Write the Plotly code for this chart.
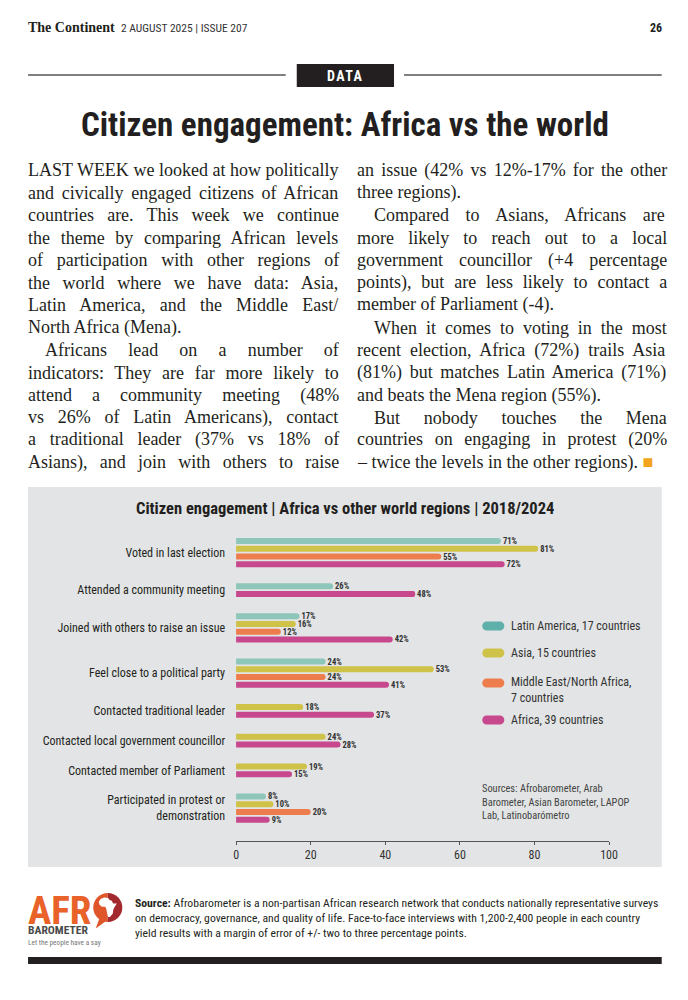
import plotly.graph_objects as go

W, H = 688, 1000

# ---------------- data ----------------
categories = [
    "Voted in last election",
    "Attended a community meeting",
    "Joined with others to raise an issue",
    "Feel close to a political party",
    "Contacted traditional leader",
    "Contacted local government councillor",
    "Contacted member of Parliament",
    "Participated in protest or<br>demonstration",
]
series_names = [
    "Latin America, 17 countries",
    "Asia, 15 countries",
    "Middle East/North Africa,<br>7 countries",
    "Africa, 39 countries",
]
latin_america = [71, 26, 17, 24, None, None, None, 8]
asia = [81, None, 16, 53, 18, 24, 19, 10]
mena = [55, None, 12, 24, None, None, None, 20]
africa = [72, 48, 42, 41, 37, 28, 15, 9]
x_ticks = [0, 20, 40, 60, 80, 100]

# (text, indent, justified)
left_lines = [
    ("LAST WEEK we looked at how politically", False, True),
    ("and civically engaged citizens of African", False, True),
    ("countries are. This week we continue", False, True),
    ("the theme by comparing African levels", False, True),
    ("of participation with other regions of", False, True),
    ("the world where we have data: Asia,", False, True),
    ("Latin America, and the Middle East/", False, True),
    ("North Africa (Mena).", False, False),
    ("Africans lead on a number of", True, True),
    ("indicators: They are far more likely to", False, True),
    ("attend a community meeting (48%", False, True),
    ("vs 26% of Latin Americans), contact", False, True),
    ("a traditional leader (37% vs 18% of", False, True),
    ("Asians), and join with others to raise", False, True),
]
right_lines = [
    ("an issue (42% vs 12%-17% for the other", False, True),
    ("three regions).", False, False),
    ("Compared to Asians, Africans are", True, True),
    ("more likely to reach out to a local", False, True),
    ("government councillor (+4 percentage", False, True),
    ("points), but are less likely to contact a", False, True),
    ("member of Parliament (-4).", False, False),
    ("When it comes to voting in the most", True, True),
    ("recent election, Africa (72%) trails Asia", False, True),
    ("(81%) but matches Latin America (71%)", False, True),
    ("and beats the Mena region (55%).", False, False),
    ("But nobody touches the Mena", True, True),
    ("countries on engaging in protest (20%", False, True),
    ("– twice the levels in the other regions).", False, False),
]

# ---------------- styles ----------------
COND = "Roboto Condensed, Roboto, sans-serif"
SERIF = "Liberation Serif, serif"
INK = "#231f20"
bar_colors = ["#8ec6ba", "#cfc249", "#ee7d4e", "#c8488e"]
swatch_colors = ["#5fb0ab", "#cfc249", "#ee7d4e", "#c8488e"]
PANEL = "#e2e4e5"

# Times-compatible advance widths (1/1000 em) used to justify body lines
TW = {' ': 250, '!': 333, '%': 833, '(': 333, ')': 333, '+': 564, ',': 250, '-': 333, '.': 250,
      '/': 278, ':': 278, ';': 278, '–': 500,
      'A': 722, 'B': 667, 'C': 667, 'D': 722, 'E': 611, 'F': 556, 'G': 722, 'H': 722, 'I': 333,
      'J': 389, 'K': 722, 'L': 611, 'M': 889, 'N': 722, 'O': 722, 'P': 556, 'Q': 722, 'R': 667,
      'S': 556, 'T': 611, 'U': 722, 'V': 722, 'W': 944, 'X': 722, 'Y': 722, 'Z': 611,
      'a': 444, 'b': 500, 'c': 444, 'd': 500, 'e': 444, 'f': 333, 'g': 500, 'h': 500, 'i': 278,
      'j': 278, 'k': 500, 'l': 278, 'm': 778, 'n': 500, 'o': 500, 'p': 500, 'q': 500, 'r': 333,
      's': 389, 't': 278, 'u': 500, 'v': 500, 'w': 722, 'x': 500, 'y': 500, 'z': 444}
for d in "0123456789":
    TW[d] = 500

# horizontal calibration of the capture (observed: out = 3 + 0.98 * in)
XOFF, XSCALE = 3.0, 0.98


def px(x):
    return ((x - XOFF) / XSCALE) / W


def py(y):
    return 1 - y / H


annotations = []
shapes = []


def ann(x, y, text, size, family=COND, color=INK, xanchor="left", yanchor="middle"):
    if xanchor == "left":
        x -= 2
    elif xanchor == "right":
        x += 2
    annotations.append(dict(x=px(x), y=py(y), xref="paper", yref="paper", text=text,
                            showarrow=False, xanchor=xanchor, yanchor=yanchor,
                            font=dict(family=family, size=size, color=color),
                            align="left" if xanchor == "left" else ("right" if xanchor == "right" else "center")))


def rect(x0, y0, x1, y1, fill, layer="below"):
    shapes.append(dict(type="rect", xref="paper", yref="paper", x0=px(x0), x1=px(x1),
                       y0=py(y1), y1=py(y0), fillcolor=fill, line=dict(width=0), layer=layer))


def hline(x0, x1, y, color="#555", width=1.3):
    shapes.append(dict(type="line", xref="paper", yref="paper", x0=px(x0), x1=px(x1),
                       y0=py(y), y1=py(y), line=dict(color=color, width=width)))


def path_shape(cmds, fill):
    path = ""
    for cmd, ps in cmds:
        path += cmd + " " + " ".join(f"{px(a):.5f},{py(b):.5f}" for a, b in ps) + " "
    path += "Z"
    shapes.append(dict(type="path", xref="paper", yref="paper", path=path,
                       fillcolor=fill, line=dict(width=0), layer="above"))


def pill(x0, x1, yc, r, fill):
    k = 0.5523 * r
    path_shape([
        ("M", [(x0 + r, yc - r)]),
        ("L", [(x1 - r, yc - r)]),
        ("C", [(x1 - r + k, yc - r), (x1, yc - k), (x1, yc)]),
        ("C", [(x1, yc + k), (x1 - r + k, yc + r), (x1 - r, yc + r)]),
        ("L", [(x0 + r, yc + r)]),
        ("C", [(x0 + r - k, yc + r), (x0, yc + k), (x0, yc)]),
        ("C", [(x0, yc - k), (x0 + r - k, yc - r), (x0 + r, yc - r)]),
    ], fill)


def body_line(x, y, colw, t, indent, justified, size):
    x0 = x + (17 if indent else 0)
    target = (colw - (17 if indent else 0)) / XSCALE
    if justified and t.count(" "):
        nat = sum(TW.get(ch, 500) for ch in t) / 1000 * size
        extra = (target - nat) / t.count(" ")
        t = f"<span style='word-spacing:{extra:.2f}px'>{t}</span>"
    ann(x0, y, t, size, family=SERIF)


# ---------------- header ----------------
ann(28, 27, "<b>The Continent</b>", 14, family=SERIF)
ann(121, 28, "2 AUGUST 2025 | ISSUE 207", 11.5, color="#333")
ann(660, 28, "<b>26</b>", 12, xanchor="right")
hline(28, 285, 75)
hline(403, 660, 75)
rect(296, 64, 393, 87, INK, layer="above")
ann(344.5, 75.5, "<span style='letter-spacing:1.5px'><b>DATA</b></span>", 14, color="white", xanchor="center")
ann(344, 124, "<b>Citizen engagement: Africa vs the world</b>", 33, xanchor="center")

# ---------------- body text ----------------
LINE0, LINESTEP, BODY = 170, 22.5, 18
for i, (t, ind, jus) in enumerate(left_lines):
    body_line(28, LINE0 + i * LINESTEP, 305, t, ind, jus, BODY)
for i, (t, ind, jus) in enumerate(right_lines):
    if i == len(right_lines) - 1:
        t = t + " <span style='color:#f3a41c'>■</span>"
    body_line(356, LINE0 + i * LINESTEP, 304, t, ind, jus, BODY)

# ---------------- chart panel ----------------
rect(28, 487, 660, 867, PANEL)
ann(344, 508, "<b>Citizen engagement | Africa vs other world regions | 2018/2024</b>", 16.5, xanchor="center")

FIRST_BAR, STEP, GROUP_GAP = 541, 7.75, 22.1
series = [latin_america, asia, mena, africa]
ys = [[] for _ in series]
xs = [[] for _ in series]
centers = []
cursor = FIRST_BAR
for ci in range(len(categories)):
    slots = []
    for si, s in enumerate(series):
        v = s[ci]
        if v is None:
            continue
        if slots:
            cursor += STEP
        ys[si].append(cursor)
        xs[si].append(v)
        slots.append(cursor)
    centers.append(sum(slots) / len(slots))
    cursor += GROUP_GAP

fig = go.Figure()
for si in range(len(series)):
    fig.add_trace(go.Bar(
        x=xs[si], y=ys[si], orientation="h", width=6,
        marker=dict(color=bar_colors[si], line=dict(width=0)),
        name=series_names[si].replace("<br>", " "),
        text=[f" {v}%" for v in xs[si]], textposition="outside", constraintext="none",
        textfont=dict(family=COND, size=8.5, color="#333", weight="bold"),
        cliponaxis=False, showlegend=False, hoverinfo="skip",
    ))

# legend (drawn manually as pills)
leg_y = [626, 653, 683, 720]
for si, name in enumerate(series_names):
    pill(481, 503, leg_y[si], 4.6, swatch_colors[si])
    yy = leg_y[si] + (7 if "<br>" in name else 0)
    ann(510, yy, name, 12, color="#333")

ann(481, 802, "Sources: Afrobarometer, Arab<br>Barometer, Asian Barometer, LAPOP<br>Lab, Latinobarómetro",
    10.4, color="#444")

# ---------------- footer: logo ----------------
ann(28, 886,
    "<span style='font-size:39px;color:#e8622a'><b>AFR</b></span><br>"
    "<span style='font-size:11.6px;color:#4a4a4a'><b>BAROMETER</b></span><br>"
    "<span style='font-size:7.3px;color:#777'>Let the people have a say</span>",
    8, yanchor="top")
# speech-bubble ring with Africa silhouette
CX, CY, R = 107.5, 907.5, 14.5
K = 0.5523 * R
path_shape([("M", [(CX - 8, CY + 10)]), ("L", [(CX - 12, CY + 21)]), ("L", [(CX - 1, CY + 13)])], "#e0562b")
path_shape([
    ("M", [(CX, CY - R)]),
    ("C", [(CX - K, CY - R), (CX - R, CY - K), (CX - R, CY)]),
    ("C", [(CX - R, CY + K), (CX - K, CY + R), (CX, CY + R)]),
], "#e0562b")
path_shape([
    ("M", [(CX, CY - R)]),
    ("C", [(CX + K, CY - R), (CX + R, CY - K), (CX + R, CY)]),
    ("C", [(CX + R, CY + K), (CX + K, CY + R), (CX, CY + R)]),
], "#a3292e")
africa_outline = [(0.30, 0.00), (0.52, 0.02), (0.60, 0.12), (0.72, 0.16), (0.80, 0.30), (1.00, 0.30),
                  (0.86, 0.50), (0.80, 0.62), (0.78, 0.80), (0.62, 0.98), (0.52, 0.98), (0.46, 0.78),
                  (0.42, 0.58), (0.36, 0.46), (0.18, 0.46), (0.04, 0.36), (0.00, 0.22), (0.10, 0.08)]
bx0, by0, bw, bh = CX - 9, CY - 10, 18, 20
pts = [(bx0 + u * bw, by0 + v * bh) for u, v in africa_outline]
path_shape([("M", [pts[0]])] + [("L", [p]) for p in pts[1:]], "white")

ann(135, 918,
    "<b>Source:</b> Afrobarometer is a non-partisan African research network that conducts nationally representative surveys<br>"
    "on democracy, governance, and quality of life. Face-to-face interviews with 1,200-2,400 people in each country<br>"
    "yield results with a margin of error of +/- two to three percentage points.",
    11.7, color=INK)
rect(28, 957, 660, 964, INK)

fig.update_layout(
    width=W, height=H, margin=dict(l=0, r=0, t=0, b=0),
    paper_bgcolor="white", plot_bgcolor="rgba(0,0,0,0)",
    barmode="overlay", barcornerradius=3,
    annotations=annotations, shapes=shapes, showlegend=False,
    xaxis=dict(domain=[px(235.5), px(607.5)], range=[0, 100], tickvals=x_ticks,
               showgrid=False, zeroline=False, showline=True, linecolor="#555", linewidth=1,
               ticks="outside", ticklen=3, tickcolor="#555",
               tickfont=dict(family=COND, size=12, color="#333"), anchor="y", fixedrange=True),
    yaxis=dict(domain=[py(841), py(530)], range=[841, 530], tickvals=centers, ticktext=categories,
               showgrid=False, zeroline=False, showline=False, ticks="",
               ticklabelstandoff=10,
               tickfont=dict(family=COND, size=12, color=INK), fixedrange=True),
)

fig.write_html("out.html", config={"displayModeBar": False},
               post_script="document.body.style.margin='0';")
